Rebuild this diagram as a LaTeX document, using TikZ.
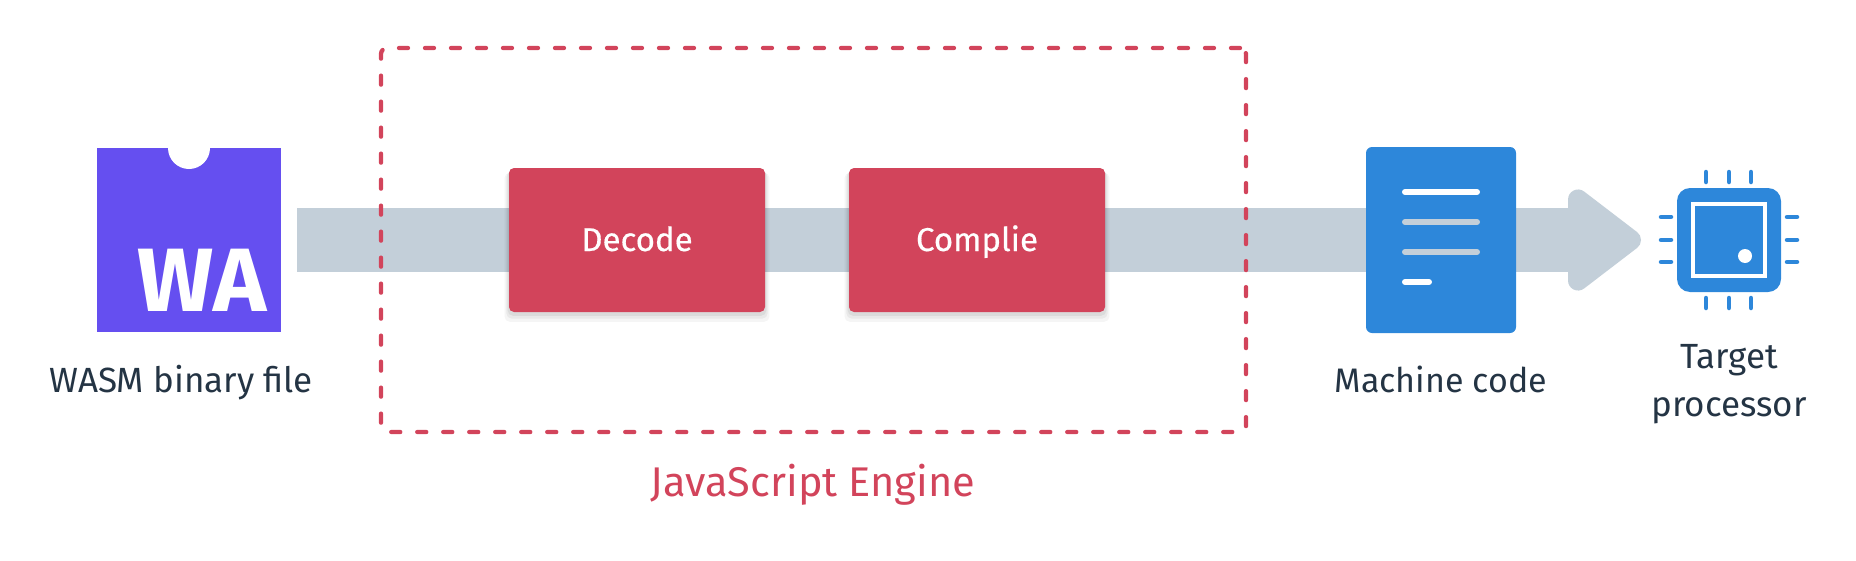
\documentclass[tikz,border=0pt]{standalone}
\usepackage{fontspec}
\setmainfont{Fira Sans}
\usetikzlibrary{arrows.meta,shadows}
\definecolor{wapurple}{HTML}{654FF0}
\definecolor{enginered}{HTML}{D2445B}
\definecolor{chipblue}{HTML}{2D87DA}
\definecolor{barblue}{HTML}{C3CFD9}
\definecolor{labelink}{HTML}{243444}

\begin{document}
\begin{tikzpicture}[x=1pt,y=-1pt,
    label/.style={text=labelink,font=\fontsize{35}{48}\selectfont,align=center},
    stagebox/.style={rectangle,rounded corners=5pt,fill=enginered,text=white,minimum width=256pt,minimum height=144pt,
      font=\fontsize{33}{34}\selectfont\addfontfeature{FakeBold=.5},text height=23pt,text depth=1pt,
      drop shadow={shadow xshift=0pt,shadow yshift=-7pt,shadow scale=1.035,opacity=.04,fill=black},
      drop shadow={shadow xshift=0pt,shadow yshift=-5pt,shadow scale=1.02,opacity=.05,fill=black},
      drop shadow={shadow xshift=0pt,shadow yshift=-3pt,shadow scale=1.01,opacity=.06,fill=black}},
    codeline/.style={line width=6pt,line cap=round},
    chippin/.style={chipblue,line width=4.5pt,line cap=round}]
  \useasboundingbox (0,0) rectangle (1856,560);
  % flow bar
  \coordinate (barstart) at (297,240);
  \coordinate (bartip) at (1641,240);
  \draw[barblue,line width=64pt,-{Triangle[length=80pt,width=116pt,round]}] (barstart) -- (bartip);
  % engine
  \node[draw=enginered,line width=4.3pt,rounded corners=6pt,dash pattern=on 9pt off 17pt,line cap=round,
    minimum width=865pt,minimum height=384pt] (engine) at (813.5,240) {};
  \node[text=enginered,font=\fontsize{41.5}{48}\selectfont] (enginelabel) at (813,485) {JavaScript Engine};
  \node[stagebox] (decode) at (637,240) {Decode};
  \node[stagebox] (complie) at (977,240) {Complie};
  % wasm file
  \node[rectangle,fill=wapurple,minimum size=184pt] (wasm) at (189,240) {};
  \fill[white] (189,148) circle (21pt);
  \node[text=white,font=\fontsize{90}{90}\selectfont\bfseries] (wa) at (202,280) {WA};
  \node[label,anchor=base] (wasmlabel) at (181,392) {WASM binary file};
  % machine code
  \node[rectangle,rounded corners=6pt,fill=chipblue,minimum width=150pt,minimum height=186pt] (machine) at (1441,240) {};
  \draw[codeline,white] (1405,192) -- (1477,192);
  \draw[codeline,barblue] (1405,222) -- (1477,222);
  \draw[codeline,barblue] (1405,252) -- (1477,252);
  \draw[codeline,white] (1405,282) -- (1429,282);
  \node[label,anchor=base,font=\fontsize{34}{48}\selectfont] (machinelabel) at (1441,392) {Machine code};
  % target processor
  \node[rectangle,rounded corners=13pt,fill=chipblue,minimum size=104pt] (chip) at (1729,240) {};
  \node[rectangle,draw=white,line width=4.5pt,minimum size=72pt] (core) at (1729,240) {};
  \fill[white] (1745,256) circle (7pt);
  \draw[chippin] (1706,172) -- (1706,182) (1729,172) -- (1729,182) (1751,172) -- (1751,182);
  \draw[chippin] (1706,298) -- (1706,308) (1729,298) -- (1729,308) (1751,298) -- (1751,308);
  \draw[chippin] (1661,217) -- (1671,217) (1661,240) -- (1671,240) (1661,262) -- (1671,262);
  \draw[chippin] (1787,217) -- (1797,217) (1787,240) -- (1797,240) (1787,262) -- (1797,262);
  \node[label] (chiplabel) at (1729,384.5) {Target\\processor};
\end{tikzpicture}
\end{document}
